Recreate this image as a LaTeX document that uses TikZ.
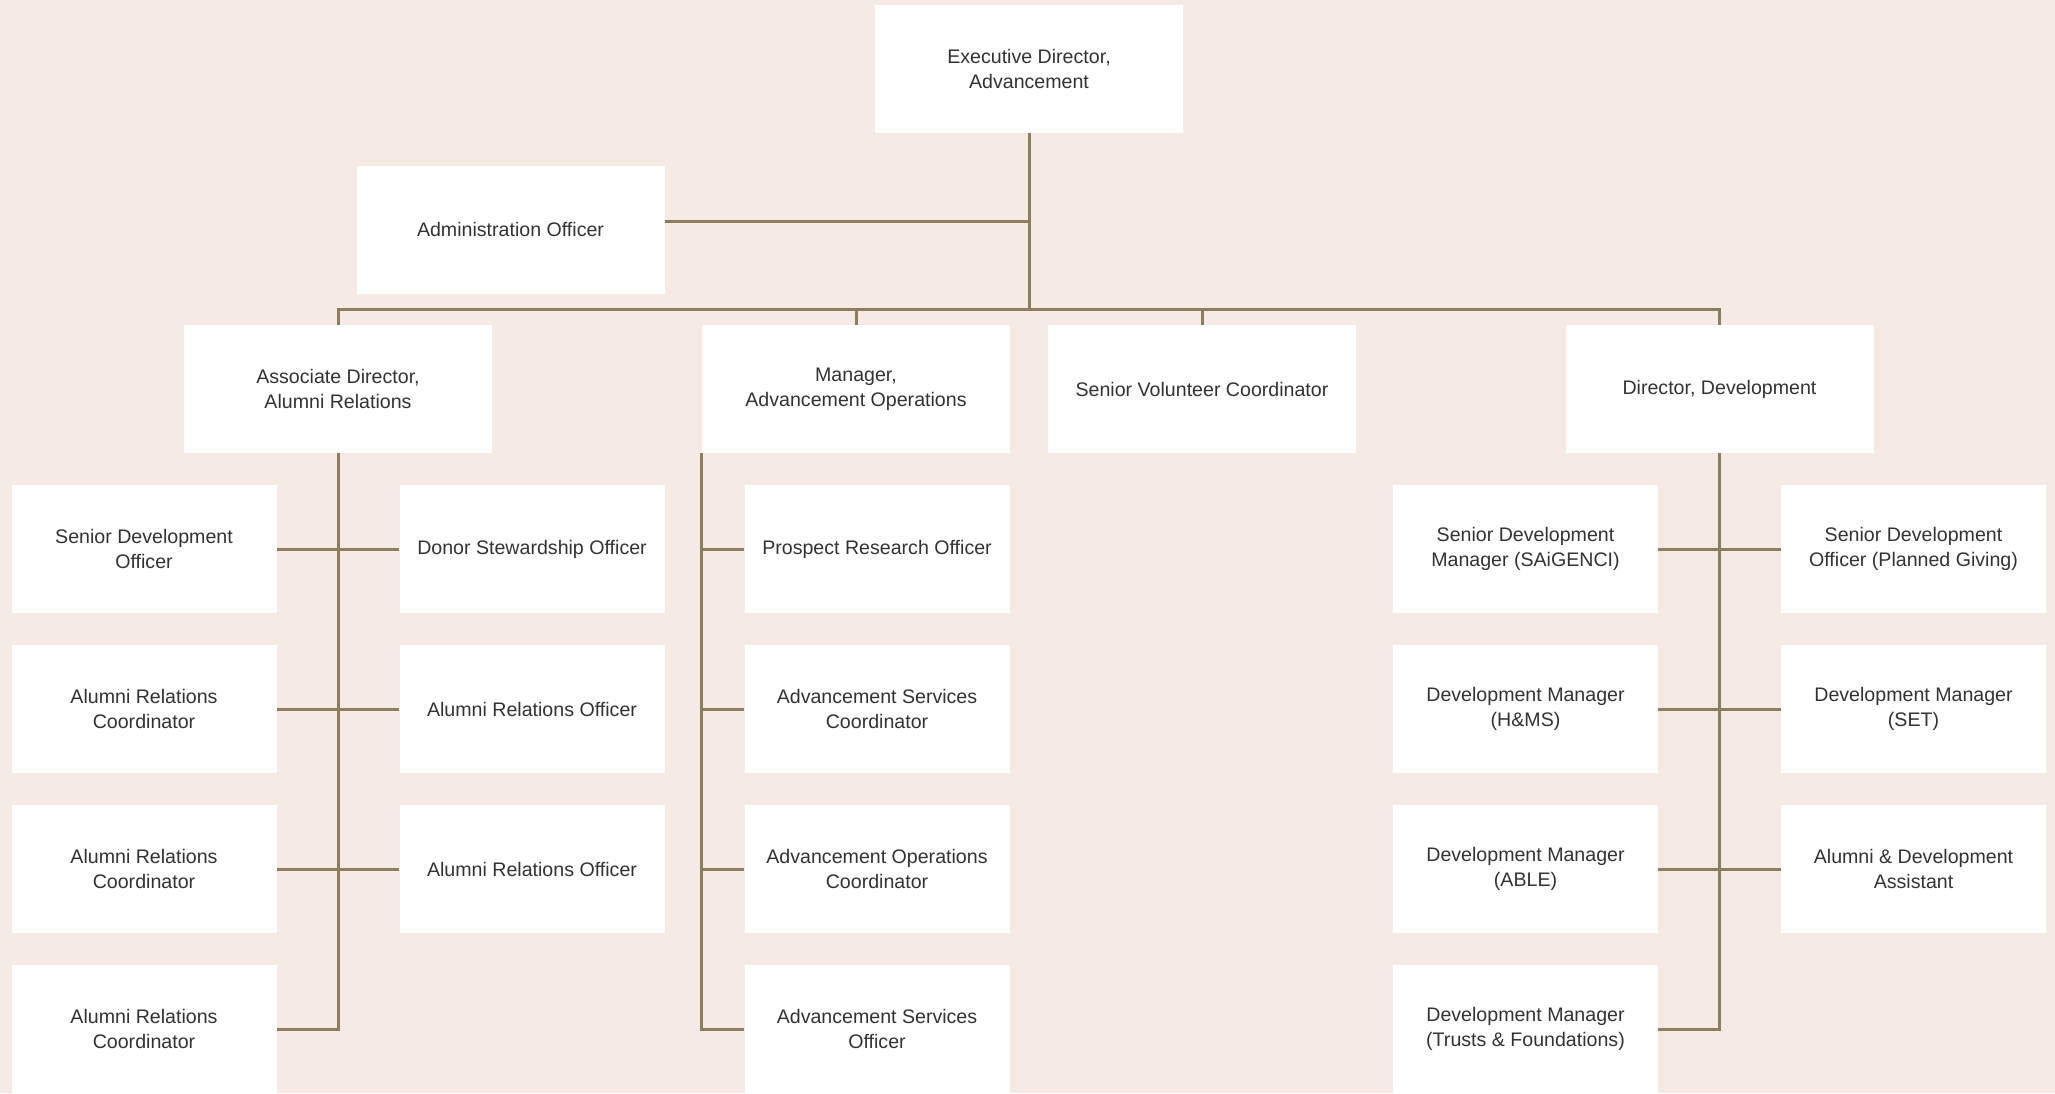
\documentclass[tikz,border=0pt]{standalone}
\usepackage{fontspec}
\setmainfont{Liberation Sans}
\definecolor{bg}{HTML}{F5EAE4}
\definecolor{ln}{HTML}{8C7D5E}
\definecolor{tx}{HTML}{333333}
\begin{document}
\begin{tikzpicture}[x=0.5pt,y=-0.5pt,
 box/.style={fill=white, draw=none, inner sep=0pt, align=center, text=tx, font=\fontsize{9.8}{12.5}\selectfont},
 topbox/.style={box, minimum width=154pt, minimum height=64pt},
 subbox/.style={box, minimum width=132.5pt, minimum height=64pt},
 link/.style={draw=ln, line width=1.5pt}]
\fill[bg] (0,0) rectangle (2055,1093);
\useasboundingbox (0,0) rectangle (2055,1093);
% top levels
\node[topbox] (exec) at (1029,69) {Executive Director,\\Advancement};
\node[topbox] (admin) at (510.5,229.5) {Administration Officer};
\node[topbox] (assoc) at (338,389) {Associate Director,\\Alumni Relations};
\node[topbox] (mgr) at (856,389) {Manager,\\Advancement Operations};
\node[topbox] (vol) at (1202,389) {Senior Volunteer Coordinator};
\node[topbox] (dir) at (1719.5,389) {Director, Development};
% alumni relations team
\node[subbox] (al1) at (144,549) {Senior Development\\Officer};
\node[subbox] (al2) at (144,709) {Alumni Relations\\Coordinator};
\node[subbox] (al3) at (144,869) {Alumni Relations\\Coordinator};
\node[subbox] (al4) at (144,1029) {Alumni Relations\\Coordinator};
\node[subbox] (ar1) at (532,549) {Donor Stewardship Officer};
\node[subbox] (ar2) at (532,709) {Alumni Relations Officer};
\node[subbox] (ar3) at (532,869) {Alumni Relations Officer};
% advancement operations team
\node[subbox] (m1) at (877,549) {Prospect Research Officer};
\node[subbox] (m2) at (877,709) {Advancement Services\\Coordinator};
\node[subbox] (m3) at (877,869) {Advancement Operations\\Coordinator};
\node[subbox] (m4) at (877,1029) {Advancement Services\\Officer};
% development team
\node[subbox] (dl1) at (1525.5,549) {Senior Development\\Manager (SAiGENCI)};
\node[subbox] (dl2) at (1525.5,709) {Development Manager\\(H\&MS)};
\node[subbox] (dl3) at (1525.5,869) {Development Manager\\(ABLE)};
\node[subbox] (dl4) at (1525.5,1029) {Development Manager\\(Trusts \& Foundations)};
\node[subbox] (dr1) at (1913.5,549) {Senior Development\\Officer (Planned Giving)};
\node[subbox] (dr2) at (1913.5,709) {Development Manager\\(SET)};
\node[subbox] (dr3) at (1913.5,869) {Alumni \& Development\\Assistant};
% connectors
\coordinate (bus) at (1029,309);
\coordinate (adminj) at (1029,221);
\draw[link] (exec.south) -- (exec.south |- bus);
\draw[link] (admin.east |- adminj) -- (exec.south |- adminj);
\draw[link] (assoc.north) -- (assoc.north |- bus) -- (dir.north |- bus) -- (dir.north);
\draw[link] (mgr.north) -- (mgr.north |- bus);
\draw[link] (vol.north) -- (vol.north |- bus);
% alumni
\draw[link] (assoc.south) -- (assoc.south |- al4.east) -- (al4.east);
\foreach \i in {1,2,3} \draw[link] (al\i.east) -- (ar\i.west);
% operations
\draw[link] (mgr.south west) -- (mgr.south west |- m4.west) -- (m4.west);
\foreach \i in {1,2,3} \draw[link] (m\i.west) -- (m\i.west -| mgr.south west);
% development
\draw[link] (dir.south) -- (dir.south |- dl4.east) -- (dl4.east);
\foreach \i in {1,2,3} \draw[link] (dl\i.east) -- (dr\i.west);
\end{tikzpicture}
\end{document}
